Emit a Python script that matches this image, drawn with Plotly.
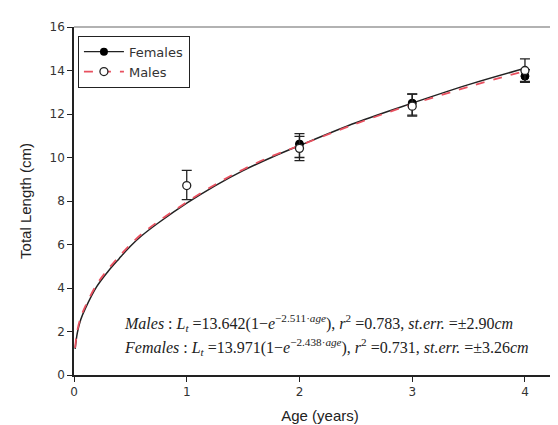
import plotly.graph_objects as go

# Observed mean total length by age
ages_f = [2, 3, 4]
len_f = [10.62, 12.5, 13.74]
err_f_plus = [0.48, 0.42, 0.3]
err_f_minus = [0.62, 0.55, 0.28]

ages_m = [1, 2, 3, 4]
len_m = [8.71, 10.42, 12.36, 14.0]
err_m_plus = [0.7, 0.55, 0.55, 0.53]
err_m_minus = [0.65, 0.56, 0.46, 0.5]

# Fitted curves
curve_age = [0.01, 0.03, 0.06, 0.1, 0.2, 0.3, 0.4, 0.5, 0.6, 0.75, 1.0, 1.25, 1.5, 1.75, 2.0, 2.5, 3.0, 3.5, 4.0]
curve_f = [1.2, 1.95, 2.55, 3.05, 4.05, 4.75, 5.35, 5.92, 6.4, 7.0, 7.9, 8.7, 9.4, 10.0, 10.55, 11.6, 12.5, 13.35, 14.1]
curve_m = [1.25, 2.05, 2.65, 3.15, 4.15, 4.85, 5.45, 6.0, 6.48, 7.07, 7.95, 8.75, 9.45, 10.05, 10.55, 11.55, 12.45, 13.25, 13.98]

x_ticks = [0, 1, 2, 3, 4]
y_ticks = [0, 2, 4, 6, 8, 10, 12, 14, 16]

RED = "#e8505f"
fig = go.Figure()

fig.add_trace(go.Scatter(x=curve_age, y=curve_f, mode="lines", line=dict(color="#222", width=1.5, shape="spline"),
                         showlegend=False, hoverinfo="skip"))
fig.add_trace(go.Scatter(x=curve_age, y=curve_m, mode="lines", line=dict(color=RED, width=1.8, dash="dash", shape="spline"),
                         showlegend=False, hoverinfo="skip"))

fig.add_trace(go.Scatter(x=ages_f, y=len_f, mode="markers",
                         marker=dict(color="black", size=8, line=dict(color="black", width=1)),
                         error_y=dict(type="data", array=err_f_plus, arrayminus=err_f_minus, color="#222", thickness=1.3, width=5),
                         showlegend=False))
fig.add_trace(go.Scatter(x=ages_m, y=len_m, mode="markers",
                         marker=dict(color="white", size=8, line=dict(color="#222", width=1.3)),
                         error_y=dict(type="data", array=err_m_plus, arrayminus=err_m_minus, color="#222", thickness=1.3, width=5),
                         showlegend=False))

# legend entries
fig.add_trace(go.Scatter(x=[None], y=[None], mode="lines+markers", name="Females",
                         line=dict(color="#222", width=1.3),
                         marker=dict(color="black", size=8)))
fig.add_trace(go.Scatter(x=[None], y=[None], mode="lines+markers", name="Males",
                         line=dict(color=RED, width=1.8, dash="dash"),
                         marker=dict(color="white", size=8, line=dict(color="#222", width=1.3))))

eq_font = dict(family="Liberation Serif", size=16, color="#222")
fig.add_annotation(x=0.43, y=2.38, xref="x", yref="y", xanchor="left", yanchor="middle", showarrow=False, font=eq_font,
                   text="<i>Males</i> : <i>L</i><sub><i>t</i></sub> =13.642(1−<i>e</i><sup>−2.511·<i>age</i></sup>), <i>r</i><sup>2</sup> =0.783, <i>st.err.</i> =±2.90<i>cm</i>")
fig.add_annotation(x=0.43, y=1.3, xref="x", yref="y", xanchor="left", yanchor="middle", showarrow=False, font=eq_font,
                   text="<i>Females</i> : <i>L</i><sub><i>t</i></sub> =13.971(1−<i>e</i><sup>−2.438·<i>age</i></sup>), <i>r</i><sup>2</sup> =0.731, <i>st.err.</i> =±3.26<i>cm</i>")

# top frame line (gray)
fig.add_shape(type="line", xref="paper", yref="paper", x0=0, x1=1, y0=1, y1=1, line=dict(color="#999", width=1.5))

tick_font = dict(family="DejaVu Sans", size=12, color="#333")
fig.update_xaxes(range=[0, 4.364], tickvals=x_ticks, ticks="outside", ticklen=5, tickwidth=1.3, tickcolor="#222",
                 showline=True, linecolor="#222", linewidth=1.5, showgrid=False, zeroline=False,
                 tickfont=tick_font, title=dict(text="Age (years)", font=dict(family="Liberation Sans", size=15, color="#222"), standoff=12))
fig.update_yaxes(range=[0, 16], tickvals=y_ticks, ticks="outside", ticklen=5, tickwidth=1.3, tickcolor="#222",
                 showline=True, linecolor="#222", linewidth=1.5, showgrid=False, zeroline=False,
                 tickfont=tick_font, title=dict(text="Total Length (cm)", font=dict(family="Liberation Sans", size=15, color="#222"), standoff=14))

fig.update_layout(width=558, height=425, margin=dict(l=66, r=0, t=19, b=58),
                  plot_bgcolor="white", paper_bgcolor="white",
                  legend=dict(x=0.008, y=0.975, xanchor="left", yanchor="top", bordercolor="#222", borderwidth=1,
                              bgcolor="white", font=dict(family="DejaVu Sans", size=13, color="#333"),
                              itemwidth=40, tracegroupgap=0))

fig.write_html("out.html")
